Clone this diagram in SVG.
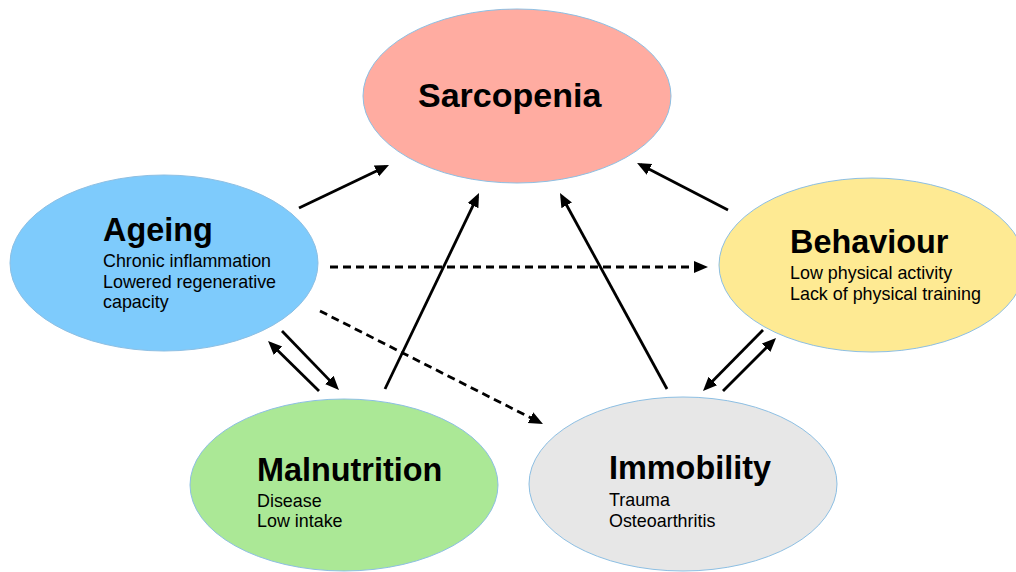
<svg xmlns="http://www.w3.org/2000/svg" width="1016" height="572" viewBox="0 0 1016 572">
<style>
.node{stroke:#8dbfe3;stroke-width:1}
.title{font-family:"Liberation Sans",Arial,Helvetica,sans-serif;font-weight:bold;font-size:32.4px;fill:#000}
.body{font-family:"Liberation Sans",Arial,Helvetica,sans-serif;font-size:17.9px;fill:#000}
.arrow{stroke:#000;stroke-width:2.8;fill:none;marker-end:url(#head)}
.dashed{stroke-dasharray:8 5}
</style>
<defs>
<marker id="head" markerUnits="userSpaceOnUse" markerWidth="16" markerHeight="14" refX="10" refY="6" orient="auto" viewBox="0 0 16 14">
<path d="M0,0 L14,6 L0,12 z" fill="#000" stroke="none"/>
</marker>
</defs>
<rect width="1016" height="572" fill="#fff"/>
<g id="sarcopenia">
<ellipse class="node" cx="517" cy="96" rx="154" ry="87" fill="#ffaca1"/>
<text class="title" x="418" y="107" style="font-size:34px">Sarcopenia</text>
</g>
<g id="ageing">
<ellipse class="node" cx="164" cy="263" rx="154" ry="88" fill="#7ecbfc"/>
<text class="title" x="103" y="241">Ageing</text>
<text class="body" x="103" y="267">Chronic inflammation</text>
<text class="body" x="103" y="287.5">Lowered regenerative</text>
<text class="body" x="103" y="308">capacity</text>
</g>
<g id="behaviour">
<ellipse class="node" cx="872" cy="265" rx="153" ry="87" fill="#feea93"/>
<text class="title" x="790" y="253">Behaviour</text>
<text class="body" x="790" y="279">Low physical activity</text>
<text class="body" x="790" y="300">Lack of physical training</text>
</g>
<g id="malnutrition">
<ellipse class="node" cx="344" cy="485" rx="154" ry="86" fill="#abe896"/>
<text class="title" x="257" y="481">Malnutrition</text>
<text class="body" x="257" y="506.5">Disease</text>
<text class="body" x="257" y="527">Low intake</text>
</g>
<g id="immobility">
<ellipse class="node" cx="683" cy="484" rx="154" ry="87" fill="#e7e7e7"/>
<text class="title" x="609" y="479">Immobility</text>
<text class="body" x="609" y="505.5">Trauma</text>
<text class="body" x="609" y="526.5">Osteoarthritis</text>
</g>
<g id="connectors">
<line class="arrow" x1="299" y1="208" x2="385.4" y2="166.7"/>
<line class="arrow" x1="728" y1="210" x2="640.6" y2="164.8"/>
<line class="arrow" x1="385" y1="389" x2="477.3" y2="196.6"/>
<line class="arrow" x1="667" y1="389" x2="561.9" y2="196.5"/>
<line class="arrow dashed" x1="330" y1="267" x2="704" y2="267"/>
<line class="arrow dashed" x1="320" y1="311" x2="539.4" y2="422.2"/>
<line class="arrow" x1="282" y1="331" x2="336.2" y2="387.1"/>
<line class="arrow" x1="319" y1="391" x2="270.9" y2="343.8"/>
<line class="arrow" x1="763" y1="330" x2="705.8" y2="388.1"/>
<line class="arrow" x1="723" y1="391" x2="773.2" y2="340.8"/>
</g>
</svg>
